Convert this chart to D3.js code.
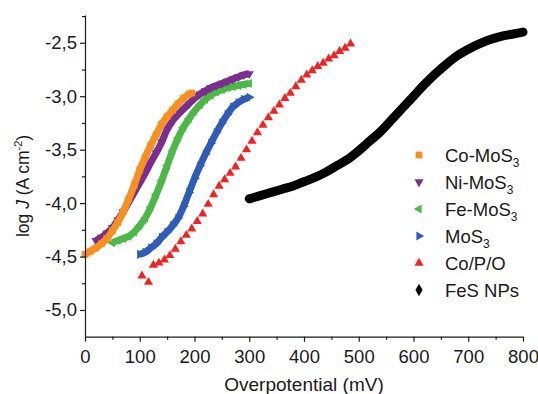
<!DOCTYPE html>
<html>
  <head>
    <meta charset="UTF-8">
    <title>log J vs overpotential</title>
    <style>
      body { margin: 0; background: #fff; }
      svg text { font-family: "Liberation Sans", Arial, sans-serif; fill: #1a1a1a; }
      .axis path, .axis line { stroke: #1a1a1a; stroke-width: 1.2px; }
      .axis text { font-size: 18.5px; }
    </style>
    <script src="https://d3js.org/d3.v7.min.js"></script>
  </head>
  <body>
    <div id="chart"></div>
    <script>
      // values (mV, log J)
      var coMoS3V = [0, 10, 20, 30, 40, 50, 60, 70, 80, 90, 100, 110, 120, 130, 140, 150, 160, 170, 180, 190, 195];
      var coMoS3J = [-4.48, -4.45, -4.42, -4.38, -4.33, -4.26, -4.18, -4.08, -3.96, -3.83, -3.69, -3.57, -3.46, -3.36, -3.26, -3.19, -3.13, -3.07, -3.02, -2.98, -2.97];

      var niMoS3V = [20, 30, 40, 50, 60, 70, 80, 90, 100, 110, 120, 130, 140, 150, 160, 170, 180, 190, 200, 210, 220, 230, 240, 250, 260, 270, 280, 290, 300];
      var niMoS3J = [-4.35, -4.32, -4.28, -4.23, -4.16, -4.08, -3.99, -3.90, -3.81, -3.72, -3.62, -3.53, -3.43, -3.31, -3.23, -3.17, -3.12, -3.07, -3.02, -2.98, -2.95, -2.92, -2.90, -2.88, -2.86, -2.84, -2.82, -2.80, -2.79];

      var feMoS3V = [50, 60, 70, 80, 90, 100, 110, 120, 130, 140, 150, 160, 170, 180, 190, 200, 210, 220, 230, 240, 250, 260, 270, 280, 290, 300];
      var feMoS3J = [-4.37, -4.35, -4.33, -4.31, -4.27, -4.21, -4.14, -4.04, -3.92, -3.79, -3.65, -3.51, -3.39, -3.29, -3.21, -3.14, -3.08, -3.03, -2.99, -2.96, -2.94, -2.92, -2.91, -2.90, -2.89, -2.88];

      var moS3V = [100, 110, 120, 130, 140, 150, 160, 170, 180, 190, 200, 210, 220, 230, 240, 250, 260, 270, 280, 290, 300];
      var moS3J = [-4.48, -4.46, -4.42, -4.38, -4.32, -4.27, -4.21, -4.14, -4.03, -3.90, -3.77, -3.65, -3.54, -3.44, -3.34, -3.25, -3.17, -3.10, -3.06, -3.03, -3.01];

      var coPOV = [104, 116, 125, 135, 145, 155, 165, 175, 185, 195, 205, 215, 225, 235, 245, 255, 265, 275, 285, 295, 305, 315, 325, 335, 345, 355, 365, 375, 385, 395, 405, 415, 425, 435, 445, 455, 465, 475, 485];
      var coPOJ = [-4.68, -4.74, -4.58, -4.56, -4.53, -4.49, -4.43, -4.36, -4.30, -4.24, -4.17, -4.10, -4.01, -3.92, -3.84, -3.78, -3.72, -3.66, -3.58, -3.50, -3.42, -3.34, -3.27, -3.20, -3.14, -3.08, -3.02, -2.97, -2.91, -2.85, -2.80, -2.76, -2.72, -2.69, -2.65, -2.62, -2.58, -2.55, -2.51];

      var fesV = [300, 320, 340, 360, 380, 400, 420, 440, 460, 480, 500, 520, 540, 560, 580, 600, 620, 640, 660, 680, 700, 720, 740, 760, 780, 800];
      var fesJ = [-3.96, -3.93, -3.90, -3.87, -3.84, -3.80, -3.76, -3.71, -3.65, -3.59, -3.51, -3.42, -3.33, -3.22, -3.11, -3.00, -2.89, -2.79, -2.70, -2.62, -2.56, -2.51, -2.47, -2.44, -2.42, -2.40];

      var xTicks = [0, 100, 200, 300, 400, 500, 600, 700, 800];
      var xMinor = [50, 150, 250, 350, 450, 550, 650, 750];
      var yTicks = [-5.0, -4.5, -4.0, -3.5, -3.0, -2.5];
      var yMinor = [-4.75, -4.25, -3.75, -3.25, -2.75, -2.25];

      var seriesNames = ["Co-MoS3", "Ni-MoS3", "Fe-MoS3", "MoS3", "Co/P/O", "FeS NPs"];
      var seriesColors = ["#f7901e", "#7a2e8e", "#4cb847", "#2f5cb6", "#f02222", "#000000"];

      var width = 538, height = 394;
      var margin = {top: 15, right: 15, bottom: 57.3, left: 85};
      var w = width - margin.left - margin.right,
          h = height - margin.top - margin.bottom;

      var svg = d3.select("#chart").append("svg")
          .attr("width", width)
          .attr("height", height);

      var g = svg.append("g")
          .attr("transform", "translate(" + margin.left + "," + margin.top + ")");

      var x = d3.scaleLinear().domain([0, 800]).range([0, w]);
      var y = d3.scaleLinear().domain([-5.25, -2.24]).range([h, 0]);

      function pts(vs, js) { return vs.map(function(v, i) { return [v, js[i]]; }); }

      var series = [
        {pts: pts(fesV, fesJ), color: seriesColors[5], shape: "none", band: 9},
        {pts: pts(coPOV, coPOJ), color: seriesColors[4], shape: "up", band: 0},
        {pts: pts(moS3V, moS3J), color: seriesColors[3], shape: "right", band: 7},
        {pts: pts(feMoS3V, feMoS3J), color: seriesColors[2], shape: "left", band: 7},
        {pts: pts(niMoS3V, niMoS3J), color: seriesColors[1], shape: "down", band: 7},
        {pts: pts(coMoS3V, coMoS3J), color: seriesColors[0], shape: "square", band: 7}
      ];

      var rot = {up: 0, down: 180, left: -90, right: 90};
      function symbolPath(shape) {
        if (shape === "square") return d3.symbol().type(d3.symbolSquare).size(46)();
        if (shape === "diamond") return d3.symbol().type(d3.symbolDiamond).size(44)();
        return d3.symbol().type(d3.symbolTriangle).size(36)();
      }
      function symbolTransform(shape, px, py) {
        var t = "translate(" + px + "," + py + ")";
        if (rot[shape] !== undefined) t += " rotate(" + rot[shape] + ")";
        return t;
      }

      var line = d3.line()
          .x(function(d) { return x(d[0]); })
          .y(function(d) { return y(d[1]); })
          .curve(d3.curveMonotoneX);

      series.forEach(function(s) {
        if (s.band > 0) {
          g.append("path")
              .attr("d", line(s.pts))
              .attr("fill", "none")
              .attr("stroke", s.color)
              .attr("stroke-width", s.band)
              .attr("stroke-linejoin", "round")
              .attr("stroke-linecap", s.shape === "none" ? "round" : "butt");
        }
        if (s.shape === "none") return;
        g.selectAll(null)
            .data(s.pts)
          .enter().append("path")
            .attr("d", symbolPath(s.shape))
            .attr("transform", function(d) { return symbolTransform(s.shape, x(d[0]), y(d[1])); })
            .attr("fill", s.color);
      });

      var commaFmt = function(d) { return d.toFixed(1).replace(".", ","); };

      // x-axis
      g.append("g")
          .attr("class", "axis")
          .attr("transform", "translate(0," + h + ")")
          .call(d3.axisBottom(x).tickValues(xTicks).tickSize(5).tickPadding(8).tickSizeOuter(0));
      g.append("g")
          .attr("class", "axis")
          .attr("transform", "translate(0," + h + ")")
          .call(d3.axisBottom(x).tickValues(xMinor).tickSize(3).tickFormat("").tickSizeOuter(0))
          .select(".domain").remove();

      // y-axis
      g.append("g")
          .attr("class", "axis")
          .call(d3.axisLeft(y).tickValues(yTicks).tickSize(5).tickPadding(3).tickFormat(commaFmt).tickSizeOuter(0));
      g.append("g")
          .attr("class", "axis")
          .call(d3.axisLeft(y).tickValues(yMinor).tickSize(3).tickFormat("").tickSizeOuter(0))
          .select(".domain").remove();

      g.selectAll(".axis .domain").attr("fill", "none");

      // axis titles
      svg.append("text")
          .attr("x", margin.left + x(400))
          .attr("y", 391)
          .attr("text-anchor", "middle")
          .style("font-size", "19px")
          .text("Overpotential (mV)");

      var yt = svg.append("text")
          .attr("transform", "translate(29,186) rotate(-90)")
          .attr("text-anchor", "middle")
          .style("font-size", "17.5px");
      yt.append("tspan").text("log ");
      yt.append("tspan").style("font-style", "italic").text("J");
      yt.append("tspan").text(" (A cm");
      yt.append("tspan").attr("dy", -7).style("font-size", "11px").text("-2");
      yt.append("tspan").attr("dy", 7).text(")");

      // legend
      var legendShapes = ["square", "down", "left", "right", "up", "diamond"];
      var legend = svg.append("g");
      seriesNames.forEach(function(name, i) {
        var ly = 155 + i * 27;
        legend.append("path")
            .attr("d", symbolPath(legendShapes[i]))
            .attr("transform", symbolTransform(legendShapes[i], 419, ly))
            .attr("fill", seriesColors[i]);
        var t = legend.append("text")
            .attr("x", 445)
            .attr("y", ly + 6.5)
            .style("font-size", "18.5px");
        if (name.slice(-1) === "3") {
          t.append("tspan").text(name.slice(0, -1));
          t.append("tspan").attr("dy", 5).style("font-size", "12px").text("3");
        } else {
          t.text(name);
        }
      });
    </script>
  </body>
</html>
